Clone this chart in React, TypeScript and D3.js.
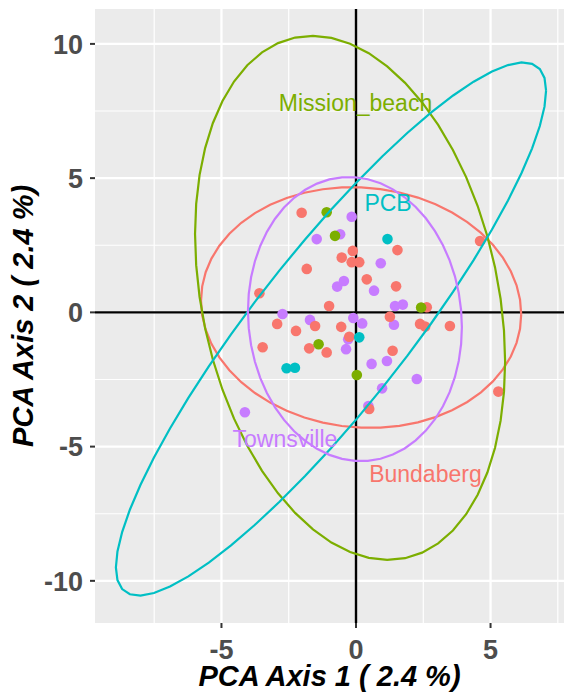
import React from "react";
import * as d3 from "d3";

const groups = ["Bundaberg", "Mission_beach", "PCB", "Townsville"];
const groupColors = ["#F8766D", "#7CAE00", "#00BFC4", "#C77CFF"];

// points: [x, y]
const bundaberg: [number, number][] = [
  [-2.02, 3.71], [1.54, 2.32], [-0.12, 2.29], [-0.53, 2.04], [-0.16, 1.87], [0.12, 1.87],
  [-1.83, 1.62], [0.40, 1.23], [1.49, 0.97], [-3.59, 0.71], [-1.0, 0.24], [1.26, -0.16],
  [-2.93, -0.43], [-2.23, -0.69], [-1.52, -0.51], [-0.55, -0.54], [2.63, 0.19], [2.38, -0.43],
  [2.57, -0.53], [3.49, -0.51], [-0.25, -0.91], [-3.47, -1.30], [-1.74, -1.34], [-1.09, -1.49],
  [1.36, -1.43], [0.49, -3.60], [4.61, 2.66], [5.29, -2.95],
];
const missionBeach: [number, number][] = [
  [-1.09, 3.73], [-0.78, 2.85], [2.42, 0.18], [-1.39, -1.19], [0.03, -2.33],
];
const pcb: [number, number][] = [
  [1.17, 2.73], [0.12, -0.93], [-2.58, -2.08], [-2.27, -2.06],
];
const townsville: [number, number][] = [
  [-0.16, 3.56], [-1.46, 2.73], [-0.59, 2.91], [0.92, 1.83], [-0.45, 1.17], [-0.70, 0.96],
  [0.67, 0.81], [1.45, 0.24], [1.74, 0.29], [-2.73, -0.06], [-0.10, -0.21], [0.23, -0.41],
  [-1.71, -0.28], [1.41, -0.46], [-0.29, -1.0], [-0.37, -1.37], [0.58, -1.92], [1.15, -1.81],
  [2.26, -2.48], [0.97, -2.83], [0.46, -3.49], [-4.13, -3.72],
];
const groupPoints = [bundaberg, missionBeach, pcb, townsville];

// ellipses: center x, center y, Sxx, Sxy, Syy
const ellipseCx = [0.19, -0.22, -0.93, -0.04];
const ellipseCy = [0.18, 0.54, -0.62, -0.25];
const ellipseSxx = [35.4, 33.2, 63.9, 15.8];
const ellipseSxy = [-1.5, -13.7, 71, -1.2];
const ellipseSyy = [20.1, 95.3, 98.6, 28.0];

// group labels
const labelX = [2.58, -0.02, 1.19, -2.64];
const labelY = [-6.01, 7.81, 4.09, -4.70];

const xTicks = [-5, 0, 5];
const yTicks = [-10, -5, 0, 5, 10];
const xMinor = [-7.5, -2.5, 2.5, 7.5];
const yMinor = [-7.5, -2.5, 2.5, 7.5];

const W = 564;
const H = 693;
const left = 95, right = 564, top = 9, bottom = 623;

export default function App() {
  const x = d3.scaleLinear().domain([-9.7, 7.73]).range([left, right]);
  const y = d3.scaleLinear().domain([-11.57, 11.3]).range([bottom, top]);

  const ellipsePath = (i: number) => {
    const a = Math.sqrt(ellipseSxx[i]);
    const b = ellipseSxy[i] / a;
    const c = Math.sqrt(ellipseSyy[i] - b * b);
    const n = 52;
    const pts: [number, number][] = d3.range(n + 1).map((k) => {
      const t = (2 * Math.PI * k) / n;
      return [ellipseCx[i] + a * Math.cos(t), ellipseCy[i] + b * Math.cos(t) + c * Math.sin(t)];
    });
    return d3.line<[number, number]>().x((d) => x(d[0])).y((d) => y(d[1]))(pts) || "";
  };

  const drawOrder = [3, 0, 1, 2];
  const font = "'Liberation Sans', Arial, Helvetica, sans-serif";

  return (
    <svg width={W} height={H} style={{ position: "absolute", left: 0, top: 0, background: "#fff" }}>
      <defs>
        <clipPath id="panel">
          <rect x={left} y={top} width={right - left} height={bottom - top} />
        </clipPath>
      </defs>
      <rect x={left} y={top} width={right - left} height={bottom - top} fill="#EBEBEB" />
      <g clipPath="url(#panel)">
        {xMinor.map((t) => (
          <line key={"xm" + t} x1={x(t)} x2={x(t)} y1={top} y2={bottom} stroke="#fff" strokeWidth={1.2} />
        ))}
        {yMinor.map((t) => (
          <line key={"ym" + t} y1={y(t)} y2={y(t)} x1={left} x2={right} stroke="#fff" strokeWidth={1.2} />
        ))}
        {xTicks.map((t) => (
          <line key={"xg" + t} x1={x(t)} x2={x(t)} y1={top} y2={bottom} stroke="#fff" strokeWidth={2.3} />
        ))}
        {yTicks.map((t) => (
          <line key={"yg" + t} y1={y(t)} y2={y(t)} x1={left} x2={right} stroke="#fff" strokeWidth={2.3} />
        ))}
        <line x1={x(0)} x2={x(0)} y1={top} y2={bottom} stroke="#000" strokeWidth={2.4} />
        <line y1={y(0)} y2={y(0)} x1={left} x2={right} stroke="#000" strokeWidth={2.4} />
        {drawOrder.map((g) =>
          groupPoints[g].map((p, k) => (
            <circle key={g + "-" + k} cx={x(p[0])} cy={y(p[1])} r={5.3} fill={groupColors[g]} />
          ))
        )}
        {groups.map((g, i) => (
          <path key={"e" + g} d={ellipsePath(i)} fill="none" stroke={groupColors[i]} strokeWidth={2.2} />
        ))}
        {groups.map((g, i) => (
          <text
            key={"l" + g}
            x={x(labelX[i])}
            y={y(labelY[i])}
            dy="0.36em"
            textAnchor="middle"
            fill={groupColors[i]}
            fontFamily={font}
            fontSize={23}
          >
            {g}
          </text>
        ))}
      </g>
      {yTicks.map((t) => (
        <g key={"yt" + t}>
          <line x1={left - 5} x2={left} y1={y(t)} y2={y(t)} stroke="#333" strokeWidth={2} />
          <text x={left - 12} y={y(t)} dy="0.36em" textAnchor="end" fill="#4D4D4D" fontFamily={font} fontWeight="bold" fontSize={27}>
            {t}
          </text>
        </g>
      ))}
      {xTicks.map((t) => (
        <g key={"xt" + t}>
          <line x1={x(t)} x2={x(t)} y1={bottom} y2={bottom + 5} stroke="#333" strokeWidth={2} />
          <text x={x(t)} y={659} textAnchor="middle" fill="#4D4D4D" fontFamily={font} fontWeight="bold" fontSize={27}>
            {t}
          </text>
        </g>
      ))}
      <text x={(left + right) / 2} y={686} textAnchor="middle" fill="#000" fontFamily={font} fontWeight="bold" fontStyle="italic" fontSize={29}>
        PCA Axis 1 ( 2.4 %)
      </text>
      <text
        transform={`translate(33, ${(top + bottom) / 2}) rotate(-90)`}
        textAnchor="middle"
        fill="#000"
        fontFamily={font}
        fontWeight="bold"
        fontStyle="italic"
        fontSize={29}
      >
        PCA Axis 2 ( 2.4 %)
      </text>
    </svg>
  );
}
